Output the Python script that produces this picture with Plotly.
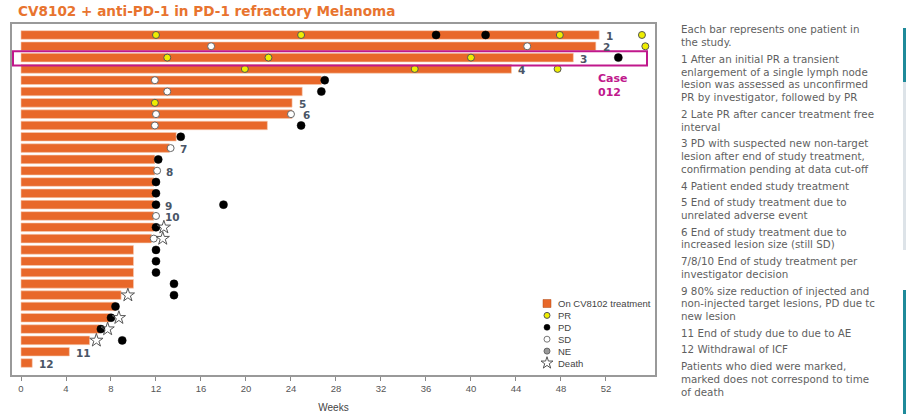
import plotly.graph_objects as go

# ---------------- data ----------------
patient_row = list(range(1, 31))  # rows, top to bottom
weeks_on_treatment = [51.4, 51.1, 49.1, 43.6, 26.7, 25.0, 24.1, 24.1, 21.9, 13.8,
                      13.2, 11.9, 11.9, 11.8, 11.8, 11.8, 11.8, 11.8, 11.6, 10.0,
                      10.0, 10.0, 10.0, 8.9, 8.4, 7.9, 7.0, 6.1, 4.3, 1.0]

pr_row = [1, 1, 1, 1, 2, 3, 3, 3, 4, 4, 4, 7]
pr_week = [12.0, 24.9, 47.9, 55.2, 55.5, 13.0, 22.0, 40.0, 19.9, 35.0, 47.7, 11.9]

pd_row = [1, 1, 3, 5, 6, 9, 10, 12, 14, 15, 16, 16, 18, 20, 21, 22, 23, 24, 25, 26, 27, 28]
pd_week = [36.9, 41.3, 53.1, 27.0, 26.7, 24.9, 14.2, 12.2, 12.0, 12.0, 12.0, 18.0,
           12.0, 12.0, 12.0, 12.0, 13.6, 13.6, 8.4, 8.0, 7.1, 9.0]

sd_row = [2, 2, 5, 6, 8, 8, 9, 11, 13, 17, 19]
sd_week = [16.9, 45.0, 11.9, 13.0, 12.0, 24.0, 11.9, 13.3, 12.1, 12.0, 11.8]

death_row = [18, 19, 24, 26, 27, 28]
death_week = [12.7, 12.6, 9.5, 8.7, 7.7, 6.7]

note_row = [1, 2, 3, 4, 7, 8, 11, 13, 16, 17, 29, 30]
note_label = ["1", "2", "3", "4", "5", "6", "7", "8", "9", "10", "11", "12"]

highlight_row = 3
highlight_text = "Case<br>012"

x_tick_values = list(range(0, 53, 4))

title_text = "CV8102 + anti-PD-1 in PD-1 refractory Melanoma"
x_title = "Weeks"

legend_labels = ["On CV8102 treatment", "PR", "PD", "SD", "NE", "Death"]

notes_paragraphs = [
    ["Each bar represents one patient in", "the study."],
    ["1 After an initial PR a transient", "enlargement of a single lymph node",
     "lesion was assessed as unconfirmed", "PR by investigator, followed by PR"],
    ["2 Late PR after cancer treatment free", "interval"],
    ["3 PD with suspected new non-target", "lesion after end of study treatment,",
     "confirmation pending at data cut-off"],
    ["4 Patient ended study treatment"],
    ["5 End of study treatment due to", "unrelated adverse event"],
    ["6 End of study treatment due to", "increased lesion size (still SD)"],
    ["7/8/10 End of study treatment per", "investigator decision"],
    ["9 80% size reduction of injected and", "non-injected target lesions, PD due tc",
     "new lesion"],
    ["11 End of study due to due to AE"],
    ["12 Withdrawal of ICF"],
    ["Patients who died were marked,", "marked does not correspond to time",
     "of death"],
]

# ---------------- styling / layout ----------------
W, H = 906, 414
L, R, T, B = 12, 655, 24, 375  # plot area in px
ORANGE = "#E8682A"
MAGENTA = "#C0188C"
TXT = "#5f5f5f"


def pxx(px):
    return (px - L) / (R - L)


def pxy(py):
    return (B - py) / (B - T)


fig = go.Figure()

fig.add_trace(go.Bar(
    x=weeks_on_treatment, y=patient_row, orientation="h",
    marker=dict(color=ORANGE, line=dict(color="#f6cdb4", width=0.6)),
    showlegend=False, hoverinfo="x"))

circle_size = 7
fig.add_trace(go.Scatter(x=pr_week, y=pr_row, mode="markers", showlegend=False,
                         marker=dict(symbol="circle", size=circle_size, color="#EEEE00",
                                     line=dict(color="#555555", width=1)), cliponaxis=False))
fig.add_trace(go.Scatter(x=pd_week, y=pd_row, mode="markers", showlegend=False,
                         marker=dict(symbol="circle", size=8, color="#000000",
                                     line=dict(color="#000000", width=0.5)), cliponaxis=False))
fig.add_trace(go.Scatter(x=sd_week, y=sd_row, mode="markers", showlegend=False,
                         marker=dict(symbol="circle", size=circle_size, color="#ffffff",
                                     line=dict(color="#666666", width=1)), cliponaxis=False))
fig.add_trace(go.Scatter(x=death_week, y=death_row, mode="markers", showlegend=False,
                         marker=dict(symbol="star-open", size=10, color="#555555",
                                     line=dict(width=1)), cliponaxis=False))

# bar note labels
for r, lab in zip(note_row, note_label):
    end = weeks_on_treatment[r - 1]
    has_marker_at_end = any(rr == r and abs(w - end) < 0.6 for rr, w in
                            zip(pr_row + pd_row + sd_row, pr_week + pd_week + sd_week))
    fig.add_annotation(x=end, y=r, text="<b>%s</b>" % lab, showarrow=False,
                       xanchor="left", yanchor="middle",
                       xshift=9 if has_marker_at_end else 5, yshift=-1,
                       font=dict(family="DejaVu Sans", size=10.5, color="#4a5566"))

# highlight box for case 012
fig.add_shape(type="rect", xref="x", yref="y", x0=-0.71, x1=55.65,
              y0=highlight_row - 0.55, y1=highlight_row + 0.7,
              line=dict(color=MAGENTA, width=2), fillcolor="rgba(0,0,0,0)")
fig.add_annotation(xref="paper", yref="paper", x=pxx(596), y=pxy(85), text="<b>%s</b>" % highlight_text,
                   showarrow=False, xanchor="left", yanchor="middle", align="left",
                   font=dict(family="DejaVu Sans", size=11, color=MAGENTA))

# custom compact legend (symbols on a pixel-scaled overlay axis)
leg_y0, leg_dy = 303.5, 11.9
leg_x = 547
leg_ys = [leg_y0 + i * leg_dy for i in range(len(legend_labels))]
leg_styles = [
    dict(symbol="square", size=8, color=ORANGE, line=dict(color="#b04a14", width=0.5)),
    dict(symbol="circle", size=6, color="#EEEE00", line=dict(color="#555555", width=1)),
    dict(symbol="circle", size=6, color="#000000", line=dict(color="#000000", width=0.5)),
    dict(symbol="circle", size=6, color="#ffffff", line=dict(color="#777777", width=1)),
    dict(symbol="circle", size=6, color="#999999", line=dict(color="#666666", width=1)),
    dict(symbol="star-open", size=9, color="#555555", line=dict(width=1)),
]
for yy, st in zip(leg_ys, leg_styles):
    fig.add_trace(go.Scatter(x=[leg_x], y=[yy], xaxis="x2", yaxis="y2", mode="markers",
                             marker=st, showlegend=False, hoverinfo="skip"))
for yy, lab in zip(leg_ys, legend_labels):
    fig.add_annotation(xref="paper", yref="paper", x=pxx(556), y=pxy(yy), text=lab,
                       showarrow=False, xanchor="left", yanchor="middle",
                       font=dict(family="Liberation Sans", size=9.5, color="#444444"))

# right-hand notes
y = 29.3
step, gap = 12.8, 16.65
first = True
for para in notes_paragraphs:
    if not first:
        y += gap - step
    first = False
    for line in para:
        fig.add_annotation(xref="paper", yref="paper", x=pxx(679), y=pxy(y), text=line,
                           showarrow=False, xanchor="left", yanchor="middle",
                           font=dict(family="DejaVu Sans", size=10.3, color=TXT))
        y += step

# title
fig.add_annotation(xref="paper", yref="paper", x=pxx(16), y=pxy(11), text="<b>%s</b>" % title_text,
                   showarrow=False, xanchor="left", yanchor="middle",
                   font=dict(family="DejaVu Sans", size=13.6, color="#E8742F"))

# teal screenshot edge at the right
fig.add_shape(type="rect", xref="paper", yref="paper", x0=pxx(903), x1=pxx(907),
              y0=pxy(82), y1=pxy(28), fillcolor="#1f8a9a", line=dict(width=0), layer="above")
fig.add_shape(type="rect", xref="paper", yref="paper", x0=pxx(903), x1=pxx(907),
              y0=pxy(250), y1=pxy(82), fillcolor="#dde3e8", line=dict(width=0), layer="above")
fig.add_shape(type="rect", xref="paper", yref="paper", x0=pxx(903), x1=pxx(907),
              y0=pxy(414), y1=pxy(290), fillcolor="#1f8a9a", line=dict(width=0), layer="above")

fig.update_layout(
    width=W, height=H,
    margin=dict(l=L, r=W - R, t=T, b=H - B, pad=0, autoexpand=False),
    paper_bgcolor="white", plot_bgcolor="white",
    bargap=0.24,
    xaxis=dict(range=[-0.8, 56.36], tickvals=x_tick_values, ticks="outside", ticklen=4,
               tickcolor="#888888", showgrid=False, zeroline=False, automargin=False,
               showline=True, linecolor="#999999", linewidth=1.5, mirror=True,
               tickfont=dict(family="Liberation Sans", size=9.5, color="#555555"),
               title=dict(text=x_title, standoff=11,
                          font=dict(family="Liberation Sans", size=10, color="#444444"))),
    yaxis=dict(range=[31.06, 0.03], showticklabels=False, ticks="", showgrid=False,
               automargin=False,
               zeroline=False, showline=True, linecolor="#999999", linewidth=1.5,
               mirror=True),
    xaxis2=dict(range=[L, R], overlaying="x", anchor="y2", visible=False),
    yaxis2=dict(range=[B, T], overlaying="y", anchor="x2", visible=False),
    showlegend=False,
)

fig.write_html("out.html", config={"displayModeBar": False},
               post_script="document.body.style.margin='0';document.body.style.overflow='hidden';")
